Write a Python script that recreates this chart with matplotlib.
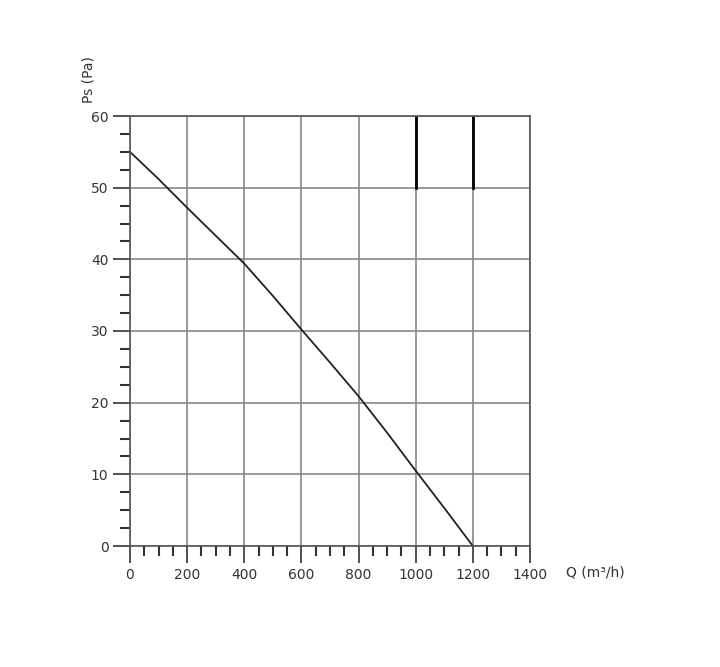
import numpy as np
import matplotlib.pyplot as plt
from matplotlib.ticker import MultipleLocator

# curve
flow = [0, 100, 200, 300, 400, 500, 600, 700, 800, 900, 1000, 1100, 1200]
pressure = [55, 51.2, 47.2, 43.3, 39.4, 34.9, 30.2, 25.6, 20.9, 15.8, 10.5, 5.3, 0]

fig = plt.figure(figsize=(7.2, 6.67), dpi=100)
ax = fig.add_axes([130/720, 1 - 546/667, 400/720, 430/667])

ax.plot(flow, pressure, color='#222222', lw=1.3)
# odd thick marks in the top right cells
for xv in [1000, 1200]:
    ax.plot([xv, xv], [50, 60], color='black', lw=2)

ax.set_xlim(0, 1400)
ax.set_ylim(0, 60)
ax.set_xticks(range(0, 1401, 200))
ax.set_yticks(range(0, 61, 10))
ax.xaxis.set_minor_locator(MultipleLocator(50))
ax.yaxis.set_minor_locator(MultipleLocator(2.5))
ax.grid(True, which='major', color='#888888', lw=1.2)
ax.tick_params(which='major', direction='out', length=12, width=1.2, colors='#333333',
               labelsize=10, labelcolor='#333333')
ax.tick_params(which='minor', direction='out', length=7, width=1.5, colors='#333333')
for s in ax.spines.values():
    s.set_color('#555555')
    s.set_linewidth(1.2)
ax.set_xticklabels(['0', '200', '400', '600', '800', '1000', '1200', '1400'])

fig.text(595/720, 1 - 572/667, 'Q (m³/h)', fontsize=10, color='#333333', ha='center', va='center')
fig.text(88/720, 1 - 80/667, 'Ps (Pa)', fontsize=10, color='#333333', rotation=90, ha='center', va='center')

fig.savefig('out.png', dpi=100)
